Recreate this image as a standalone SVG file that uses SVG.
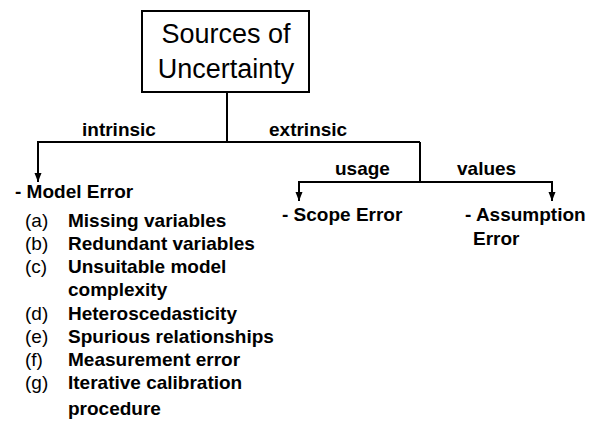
<svg xmlns="http://www.w3.org/2000/svg" width="595" height="422" viewBox="0 0 595 422">
<style>
.t{font-family:"Liberation Sans",Arial,sans-serif;fill:#000}
.b{font-weight:bold;font-size:19px}
.r{font-size:19px}
.title{font-size:27px}
.ln{stroke:#000;stroke-width:2;fill:none}
</style>
<defs>
<marker id="ah" markerUnits="userSpaceOnUse" markerWidth="10" markerHeight="10" viewBox="0 0 10 10" refX="5" refY="9" orient="auto-start-reverse">
<path d="M1.5,1 L8.5,1 L5,9 Z" fill="#000" transform="rotate(-90 5 5)"/>
</marker>
<marker id="down" markerUnits="userSpaceOnUse" markerWidth="8" markerHeight="9" viewBox="0 0 8 9" refX="4" refY="9" orient="0">
<path d="M0.5,0 L7.5,0 L4,9 Z" fill="#000"/>
</marker>
</defs>
<g id="root">
<rect x="142" y="11" width="167" height="81" fill="#fff" stroke="#000" stroke-width="2"/>
<text class="t title" x="226" y="43" text-anchor="middle">Sources of</text>
<text class="t title" x="226" y="78" text-anchor="middle">Uncertainty</text>
</g>
<g id="connectors">
<path class="ln" d="M227,92 V142"/>
<path class="ln" d="M420,142 H38 V182" marker-end="url(#down)"/>
<path class="ln" d="M420,142 V182"/>
<path class="ln" d="M420,182 H299 V201" marker-end="url(#down)"/>
<path class="ln" d="M420,182 H552 V201" marker-end="url(#down)"/>
<text class="t b" x="82" y="136">intrinsic</text>
<text class="t b" x="269" y="136">extrinsic</text>
<text class="t b" x="335" y="175">usage</text>
<text class="t b" x="457" y="175">values</text>
</g>
<g id="model-error">
<text class="t b" x="15" y="198">- Model Error</text>
<text class="t r" x="25" y="227">(a)</text><text class="t b" x="68" y="227">Missing variables</text>
<text class="t r" x="25" y="250">(b)</text><text class="t b" x="68" y="250">Redundant variables</text>
<text class="t r" x="25" y="273">(c)</text><text class="t b" x="68" y="273">Unsuitable model</text>
<text class="t b" x="68" y="296">complexity</text>
<text class="t r" x="25" y="320">(d)</text><text class="t b" x="68" y="320">Heteroscedasticity</text>
<text class="t r" x="25" y="343">(e)</text><text class="t b" x="68" y="343">Spurious relationships</text>
<text class="t r" x="25" y="366">(f)</text><text class="t b" x="68" y="366">Measurement error</text>
<text class="t r" x="25" y="389">(g)</text><text class="t b" x="68" y="389">Iterative calibration</text>
<text class="t b" x="68" y="415">procedure</text>
</g>
<g id="scope-error">
<text class="t b" x="282" y="221">- Scope Error</text>
</g>
<g id="assumption-error">
<text class="t b" x="465" y="221">- Assumption</text>
<text class="t b" x="473" y="245">Error</text>
</g>
</svg>
